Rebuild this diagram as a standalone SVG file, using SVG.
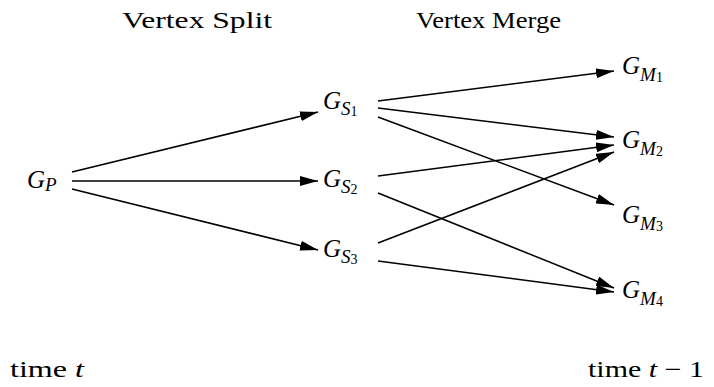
<svg xmlns="http://www.w3.org/2000/svg" width="714" height="387" viewBox="0 0 714 387">
<style>
text{font-family:"Liberation Serif","DejaVu Serif",serif;fill:#000}
.lab{font-size:25px;font-style:italic}
.sub{font-size:19px;font-style:italic}
.d{font-size:14px;font-style:normal}
.t{font-size:23px}
.it{font-style:italic}
.e{stroke:#000;stroke-width:1.5;fill:none;marker-end:url(#ah)}
</style>
<defs>
<marker id="ah" viewBox="0 0 18 10" refX="18" refY="5" markerWidth="18" markerHeight="10" markerUnits="userSpaceOnUse" orient="auto">
<path d="M0,0 L18,5 L0,10 Z" fill="#000"/>
</marker>
</defs>
<g id="titles">
<text class="t" x="122" y="28" textLength="150" lengthAdjust="spacingAndGlyphs">Vertex Split</text>
<text class="t" x="416" y="28" textLength="145" lengthAdjust="spacingAndGlyphs">Vertex Merge</text>
<text class="t" x="10" y="377" textLength="74" lengthAdjust="spacingAndGlyphs">time <tspan class="it">t</tspan></text>
<text class="t" x="588" y="377" textLength="116" lengthAdjust="spacingAndGlyphs">time <tspan class="it">t</tspan> − 1</text>
</g>
<g id="connectors">
<line class="e" x1="72" y1="172" x2="318" y2="112"/>
<line class="e" x1="72" y1="181" x2="318" y2="181"/>
<line class="e" x1="72" y1="189" x2="318" y2="250"/>
<line class="e" x1="378" y1="101" x2="614" y2="71"/>
<line class="e" x1="378" y1="108" x2="614" y2="137"/>
<line class="e" x1="378" y1="117" x2="614" y2="205"/>
<line class="e" x1="378" y1="176" x2="614" y2="145"/>
<line class="e" x1="378" y1="193" x2="614" y2="288"/>
<line class="e" x1="378" y1="243" x2="614" y2="152"/>
<line class="e" x1="378" y1="261" x2="614" y2="292"/>
</g>
<g id="GP"><text class="lab" x="27" y="188">G<tspan class="sub" dy="3">P</tspan></text></g>
<g id="GS1"><text class="lab" x="323" y="109">G<tspan class="sub" dy="6">S</tspan><tspan class="d" dy="1">1</tspan></text></g>
<g id="GS2"><text class="lab" x="323" y="187">G<tspan class="sub" dy="6">S</tspan><tspan class="d" dy="1">2</tspan></text></g>
<g id="GS3"><text class="lab" x="323" y="257">G<tspan class="sub" dy="6">S</tspan><tspan class="d" dy="1">3</tspan></text></g>
<g id="GM1"><text class="lab" x="622" y="74">G<tspan class="sub" dy="7">M</tspan><tspan class="d" dy="1">1</tspan></text></g>
<g id="GM2"><text class="lab" x="622" y="148">G<tspan class="sub" dy="7">M</tspan><tspan class="d" dy="1">2</tspan></text></g>
<g id="GM3"><text class="lab" x="622" y="223">G<tspan class="sub" dy="7">M</tspan><tspan class="d" dy="1">3</tspan></text></g>
<g id="GM4"><text class="lab" x="622" y="298">G<tspan class="sub" dy="7">M</tspan><tspan class="d" dy="1">4</tspan></text></g>
</svg>
